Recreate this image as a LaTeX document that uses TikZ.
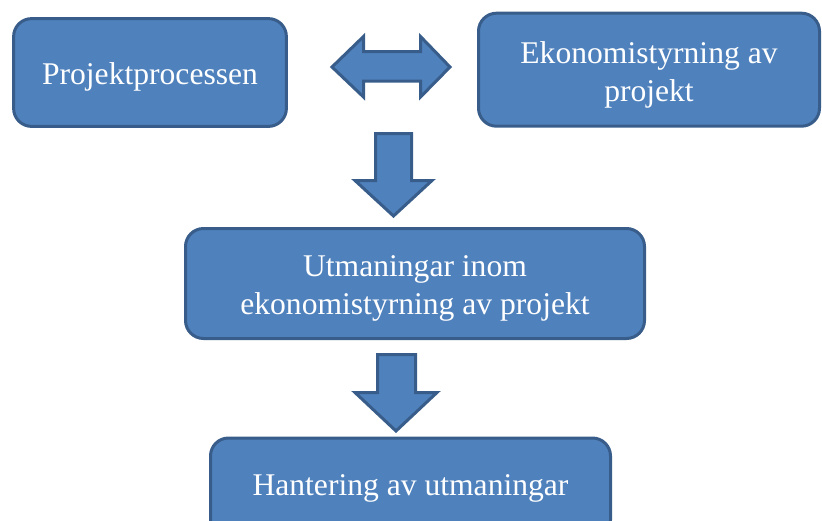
\documentclass[tikz,border=0pt]{standalone}
\usepackage{fontspec}
\setmainfont{Liberation Serif}
\usepackage{tikz}

\definecolor{boxfill}{HTML}{4F81BD}
\definecolor{boxline}{HTML}{385D8A}

\newcommand{\lowstrut}{\rule{0pt}{31.6pt}}

\tikzset{
  stepbox/.style={draw=boxline, fill=boxfill, line width=3pt, rounded corners=18pt,
    text=white, align=center, inner sep=0pt,
    font=\fontsize{31.6}{38}\selectfont},
  blockarrow/.style={draw=boxline, fill=boxfill, line width=3pt, line join=miter}
}

\begin{document}
\begin{tikzpicture}[x=1pt,y=-1pt]
        \clip (0,0) rectangle (822,520);                                       %page
        \node [stepbox, minimum width=272.8pt, minimum height=107.8pt]
              (proc) at (150,72.5)    {\lowstrut Projektprocessen};           %box 1
        \node [stepbox, minimum width=341pt, minimum height=113pt]
              (ekon) at (649,69.7)    {\lowstrut Ekonomistyrning av\\projekt};
        \node [stepbox, minimum width=459pt, minimum height=110pt]
              (utman) at (415,283.5)  {\lowstrut Utmaningar inom\\ekonomistyrning av projekt};
        \node [stepbox, minimum width=400pt, minimum height=100pt]
              (hant) at (410.5,488)   {Hantering av utmaningar};              %box 4

        \draw [blockarrow] (332,67) -- (363.5,36.5) -- (363.5,51.5) -- (420.5,51.5)
              -- (420.5,36.5) -- (450,67) -- (420.5,97) -- (420.5,81)
              -- (363.5,81) -- (363.5,97) -- cycle;                           %<->
        \draw [blockarrow] (375.5,133.5) -- (411.5,133.5) -- (411.5,180.5) -- (432,180.5)
              -- (393.5,216) -- (355,180.5) -- (375.5,180.5) -- cycle;        %down 1
        \draw [blockarrow] (377.5,354.5) -- (415.5,354.5) -- (415.5,392.5) -- (437,392.5)
              -- (396,431) -- (355,392.5) -- (377.5,392.5) -- cycle;          %down 2
\end{tikzpicture}
\end{document}
